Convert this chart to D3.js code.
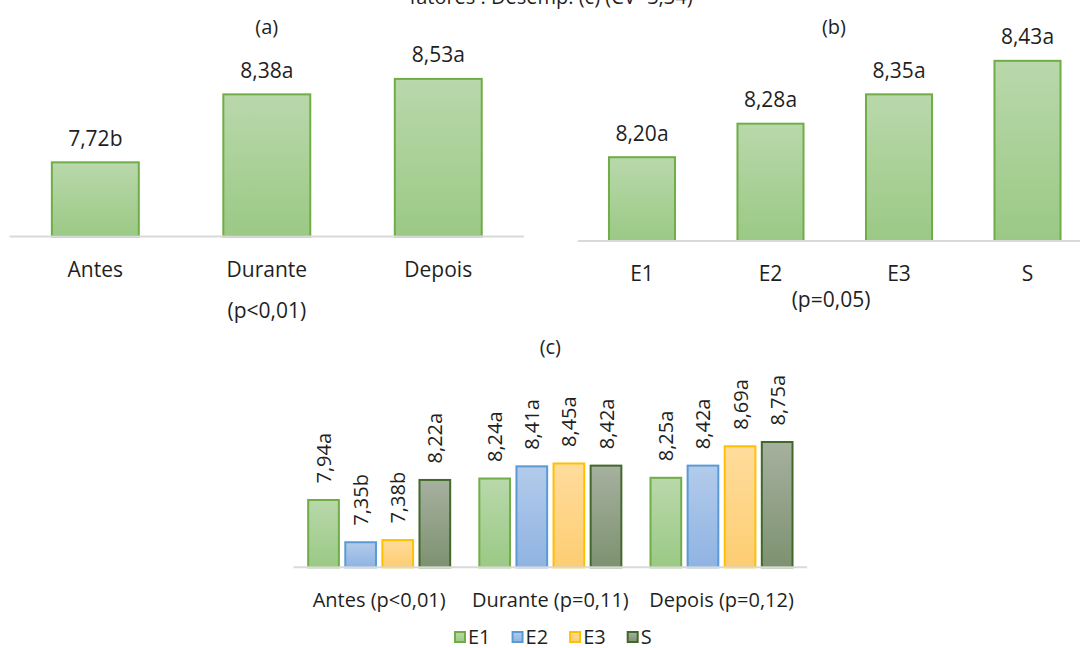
<!DOCTYPE html>
<html lang="pt">

<head>
    <meta charset="utf-8">
    <title>fatores</title>
    <script src="https://d3js.org/d3.v7.min.js"></script>
    <style>
        body { margin: 0; background: #fff; }
        text { font-family: "Open Sans", sans-serif; fill: #1f1f1f; }
    </style>
</head>

<body>
    <svg id="chart"></svg>

    <script type="text/javascript">

    // (a) periodo
    const periodos = ['Antes', 'Durante', 'Depois'];
    const mediasPeriodo = [7.72, 8.38, 8.53];
    const letrasPeriodo = ['b', 'a', 'a'];

    // (b) estagio
    const estagios = ['E1', 'E2', 'E3', 'S'];
    const mediasEstagio = [8.20, 8.28, 8.35, 8.43];
    const letrasEstagio = ['a', 'a', 'a', 'a'];

    // (c) interacao
    const gruposC = ['Antes (p<0,01)', 'Durante (p=0,11)', 'Depois (p=0,12)'];
    const serieE1 = [7.94, 8.24, 8.25];
    const serieE2 = [7.35, 8.41, 8.42];
    const serieE3 = [7.38, 8.45, 8.69];
    const serieS = [8.22, 8.42, 8.75];
    const letrasE1 = ['a', 'a', 'a'];
    const letrasE2 = ['b', 'a', 'a'];
    const letrasE3 = ['b', 'a', 'a'];
    const letrasS = ['a', 'a', 'a'];

    const titulo = 'fatores : Desemp. (c) (CV=3,34)';

    const [width, height] = [1080, 648];

    let svg = d3.select('#chart')
      .attr('width', width)
      .attr('height', height)

    let defs = svg.append('defs')
    const cores = {
      E1: { top: '#b9d8ab', bottom: '#9bc985', stroke: '#70ad47' },
      E2: { top: '#b3cbeb', bottom: '#8fb3e2', stroke: '#5b9bd5' },
      E3: { top: '#ffdc9c', bottom: '#fdcd72', stroke: '#ffc000' },
      S:  { top: '#a6b09f', bottom: '#7d9270', stroke: '#43682b' }
    };
    Object.keys(cores).forEach(function(k) {
      let grad = defs.append('linearGradient')
        .attr('id', 'grad' + k)
        .attr('x1', 0).attr('y1', 0).attr('x2', 0).attr('y2', 1)
      grad.append('stop').attr('offset', '0%').attr('stop-color', cores[k].top)
      grad.append('stop').attr('offset', '100%').attr('stop-color', cores[k].bottom)
    });

    // title, cut off at the top like the original
    svg.append('text')
      .attr('x', 551)
      .attr('y', 4)
      .attr('text-anchor', 'middle')
      .style('font-size', '20px')
      .text(titulo)

    // ---------- (a)
    let xa = d3.scaleBand()
      .domain(periodos)
      .range([9.6, 524])
      .paddingInner(0.493)
      .paddingOuter(0.2465)
    let ya = d3.scaleLinear()
      .domain([7, 8.8])
      .range([236.5, 51.1])

    let ga = svg.append('g')
    ga.selectAll('rect')
      .data(mediasPeriodo)
      .enter()
      .append('rect')
      .attr('x', function(d, i) { return xa(periodos[i]) })
      .attr('y', function(d) { return ya(d) })
      .attr('width', xa.bandwidth())
      .attr('height', function(d) { return ya(7) - ya(d) })
      .attr('fill', 'url(#gradE1)')
      .attr('stroke', cores.E1.stroke)
      .attr('stroke-width', 2)
    ga.append('line')
      .attr('x1', xa.range()[0]).attr('x2', xa.range()[1])
      .attr('y1', ya(7)).attr('y2', ya(7))
      .attr('stroke', '#d9d9d9').attr('stroke-width', 2)
    ga.selectAll('.val')
      .data(mediasPeriodo)
      .enter()
      .append('text')
      .attr('class', 'val')
      .attr('x', function(d, i) { return xa(periodos[i]) + xa.bandwidth() / 2 })
      .attr('y', function(d) { return ya(d) - 16.5 })
      .attr('text-anchor', 'middle')
      .style('font-size', '21px')
      .text(function(d, i) { return d.toFixed(2).replace('.', ',') + letrasPeriodo[i] })
    ga.selectAll('.cat')
      .data(periodos)
      .enter()
      .append('text')
      .attr('class', 'cat')
      .attr('x', function(d) { return xa(d) + xa.bandwidth() / 2 })
      .attr('y', 276.5)
      .attr('text-anchor', 'middle')
      .style('font-size', '21px')
      .text(function(d) { return d })
    ga.append('text')
      .attr('x', (xa.range()[0] + xa.range()[1]) / 2)
      .attr('y', 318)
      .attr('text-anchor', 'middle')
      .style('font-size', '21px')
      .text('(p<0,01)')
    ga.append('text')
      .attr('x', (xa.range()[0] + xa.range()[1]) / 2)
      .attr('y', 34)
      .attr('text-anchor', 'middle')
      .style('font-size', '20px')
      .text('(a)')

    // ---------- (b)
    let xb = d3.scaleBand()
      .domain(estagios)
      .range([577.75, 1091.75])
      .paddingInner(0.486)
      .paddingOuter(0.243)
    let yb = d3.scaleLinear()
      .domain([8.0, 8.5])
      .range([241, 31.5])

    let gb = svg.append('g')
    gb.selectAll('rect')
      .data(mediasEstagio)
      .enter()
      .append('rect')
      .attr('x', function(d, i) { return xb(estagios[i]) })
      .attr('y', function(d) { return yb(d) })
      .attr('width', xb.bandwidth())
      .attr('height', function(d) { return yb(8.0) - yb(d) })
      .attr('fill', 'url(#gradE1)')
      .attr('stroke', cores.E1.stroke)
      .attr('stroke-width', 2)
    gb.append('line')
      .attr('x1', xb.range()[0]).attr('x2', xb.range()[1])
      .attr('y1', yb(8.0)).attr('y2', yb(8.0))
      .attr('stroke', '#d9d9d9').attr('stroke-width', 2)
    gb.selectAll('.val')
      .data(mediasEstagio)
      .enter()
      .append('text')
      .attr('class', 'val')
      .attr('x', function(d, i) { return xb(estagios[i]) + xb.bandwidth() / 2 })
      .attr('y', function(d) { return yb(d) - 16.5 })
      .attr('text-anchor', 'middle')
      .style('font-size', '21px')
      .text(function(d, i) { return d.toFixed(2).replace('.', ',') + letrasEstagio[i] })
    gb.selectAll('.cat')
      .data(estagios)
      .enter()
      .append('text')
      .attr('class', 'cat')
      .attr('x', function(d) { return xb(d) + xb.bandwidth() / 2 })
      .attr('y', 280.5)
      .attr('text-anchor', 'middle')
      .style('font-size', '21px')
      .text(function(d) { return d })
    gb.append('text')
      .attr('x', 831)
      .attr('y', 307)
      .attr('text-anchor', 'middle')
      .style('font-size', '21px')
      .text('(p=0,05)')
    gb.append('text')
      .attr('x', 834)
      .attr('y', 34)
      .attr('text-anchor', 'middle')
      .style('font-size', '20px')
      .text('(b)')

    // ---------- (c)
    const seriesC = [
      { nome: 'E1', valores: serieE1, letras: letrasE1 },
      { nome: 'E2', valores: serieE2, letras: letrasE2 },
      { nome: 'E3', valores: serieE3, letras: letrasE3 },
      { nome: 'S', valores: serieS, letras: letrasS }
    ];
    let x0 = d3.scaleBand()
      .domain(gruposC)
      .range([293.6, 807.1])
    let x1 = d3.scaleBand()
      .domain(estagios)
      .range([0, x0.bandwidth()])
      .paddingInner(0.1725)
      .paddingOuter(0.393)
    let yc = d3.scaleLinear()
      .domain([7, 9])
      .range([567.3, 424.1])

    let gc = svg.append('g')
    let barras = [];
    seriesC.forEach(function(s) {
      s.valores.forEach(function(v, i) {
        barras.push({ serie: s.nome, grupo: gruposC[i], valor: v, letra: s.letras[i] })
      })
    });
    gc.selectAll('rect')
      .data(barras)
      .enter()
      .append('rect')
      .attr('x', function(d) { return x0(d.grupo) + x1(d.serie) })
      .attr('y', function(d) { return yc(d.valor) })
      .attr('width', x1.bandwidth())
      .attr('height', function(d) { return yc(7) - yc(d.valor) })
      .attr('fill', function(d) { return 'url(#grad' + d.serie + ')' })
      .attr('stroke', function(d) { return cores[d.serie].stroke })
      .attr('stroke-width', 2)
    gc.append('line')
      .attr('x1', x0.range()[0]).attr('x2', x0.range()[1])
      .attr('y1', yc(7)).attr('y2', yc(7))
      .attr('stroke', '#d9d9d9').attr('stroke-width', 2)
    gc.selectAll('.val')
      .data(barras)
      .enter()
      .append('text')
      .attr('class', 'val')
      .attr('transform', function(d) {
        let cx = x0(d.grupo) + x1(d.serie) + x1.bandwidth() / 2 + 7.5
        return 'translate(' + cx + ',' + (yc(d.valor) - 16.5) + ') rotate(-90)'
      })
      .style('font-size', '20px')
      .text(function(d) { return d.valor.toFixed(2).replace('.', ',') + d.letra })
    gc.selectAll('.cat')
      .data(gruposC)
      .enter()
      .append('text')
      .attr('class', 'cat')
      .attr('x', function(d) { return x0(d) + x0.bandwidth() / 2 })
      .attr('y', 606.5)
      .attr('text-anchor', 'middle')
      .style('font-size', '20px')
      .text(function(d) { return d })
    gc.append('text')
      .attr('x', (x0.range()[0] + x0.range()[1]) / 2)
      .attr('y', 354)
      .attr('text-anchor', 'middle')
      .style('font-size', '20px')
      .text('(c)')

    // legend
    let legend = svg.append('g')
    let lx = 454;
    estagios.forEach(function(e) {
      let item = legend.append('g').attr('transform', 'translate(' + lx + ',0)')
      item.append('rect')
        .attr('x', 1).attr('y', 632)
        .attr('width', 10).attr('height', 10)
        .attr('fill', 'url(#grad' + e + ')')
        .attr('stroke', cores[e].stroke)
        .attr('stroke-width', 2)
      let t = item.append('text')
        .attr('x', 14)
        .attr('y', 643.5)
        .style('font-size', '20px')
        .text(e)
      lx += 14 + t.node().getComputedTextLength() + 21
    });

  </script>

</body>

</html>
